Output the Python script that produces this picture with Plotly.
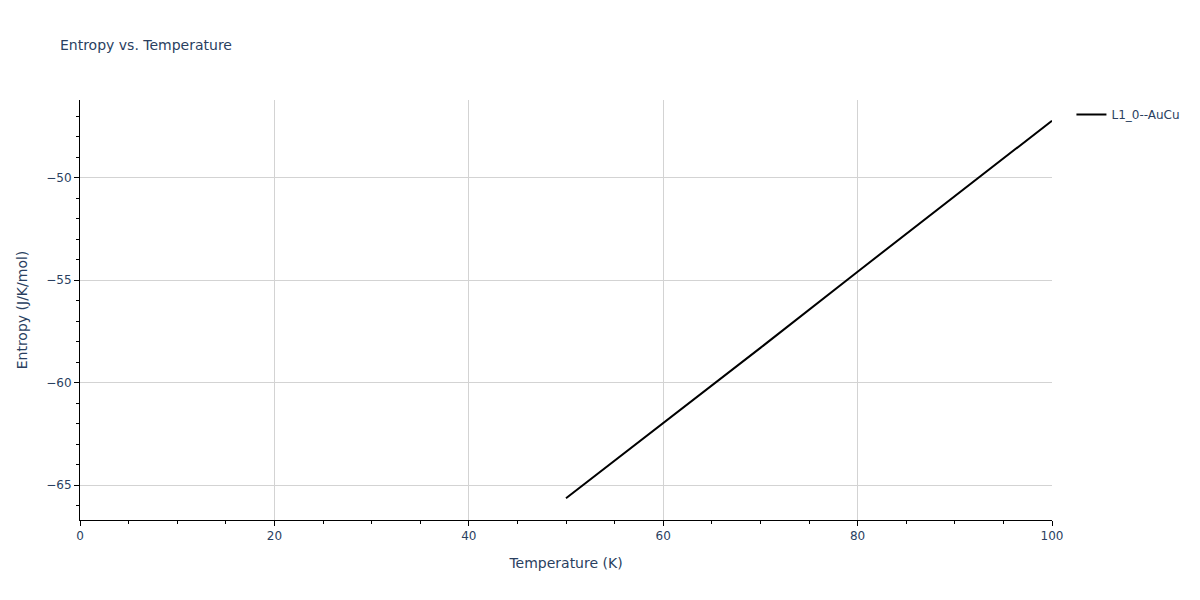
import plotly.graph_objects as go

# values
temperature = [50, 60, 70, 80, 90, 100]
entropy = [-65.64, -61.98, -58.30, -54.58, -50.90, -47.21]
series_name = "L1_0--AuCu"

fig = go.Figure()
fig.add_trace(go.Scatter(x=temperature, y=entropy, mode="lines", name=series_name,
                         line=dict(color="black", width=2)))

axis_style = dict(showline=True, linecolor="black", linewidth=1,
                  showgrid=True, gridcolor="lightgray", automargin=False,
                  ticks="outside", tickcolor="black", zeroline=False,
                  tickfont=dict(size=12), title_font=dict(size=14))

# page has an 8px body margin, so the margins are shifted to compensate
fig.update_layout(
    template="plotly_white",
    width=1200, height=600,
    font=dict(family="DejaVu Sans", color="#2a3f5f"),
    margin=dict(l=72, r=156, t=92, b=88),
    title=dict(text="Entropy vs. Temperature", font=dict(size=14), x=0.0433, y=0.947),
    showlegend=True,
    legend=dict(font=dict(size=12)),
    xaxis=dict(title="Temperature (K)", range=[0, 100], dtick=20,
               minor=dict(dtick=5, ticks="outside", tickcolor="black", showgrid=False),
               **axis_style),
    yaxis=dict(title="Entropy (J/K/mol)", range=[-66.7, -46.2], dtick=5,
               minor=dict(dtick=1, ticks="outside", tickcolor="black", showgrid=False),
               **axis_style),
)

fig.write_html("out.html")
